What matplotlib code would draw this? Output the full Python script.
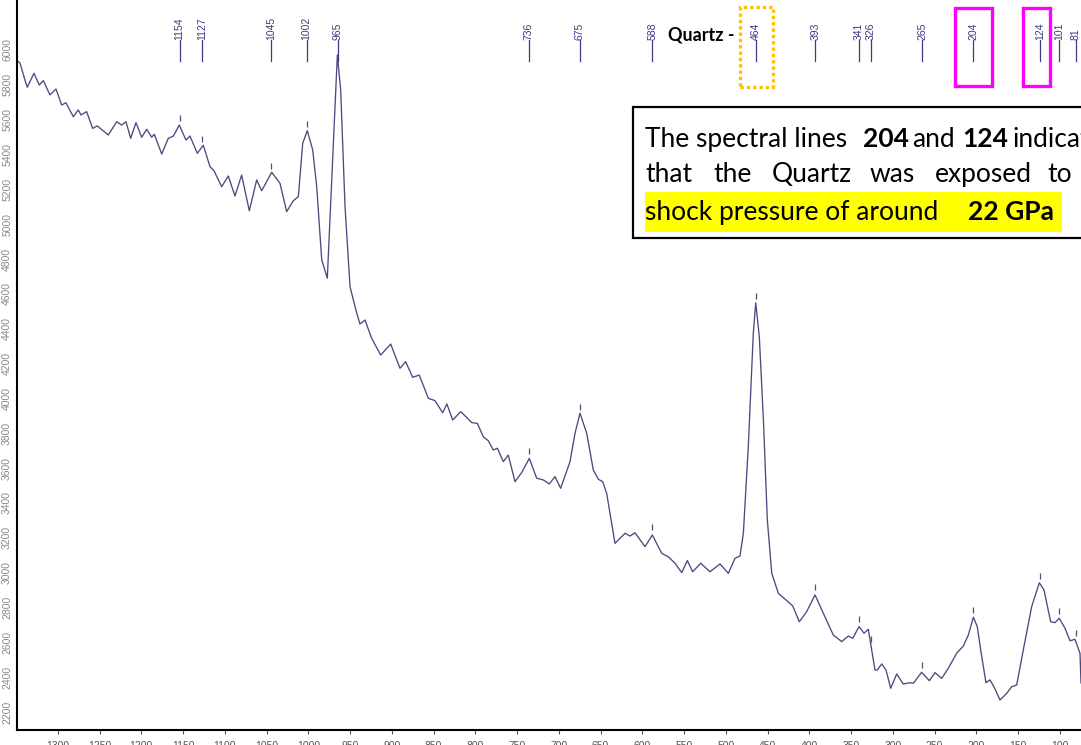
import matplotlib
matplotlib.use("Agg")
import matplotlib.pyplot as plt
import matplotlib.transforms as mtransforms
from matplotlib.patches import Rectangle
import numpy as np

# ---------------- data ----------------
wavenumber = [
    1348.5, 1345.2, 1339.3, 1336.5, 1328.5, 1322.1, 1317.3, 1309.3, 1302.1, 1295.3,
    1290.2, 1281.4, 1275.4, 1272.2, 1265.4, 1258.2, 1252.7, 1239.5, 1229.4, 1223.4,
    1218.3, 1212.7, 1206.3, 1199.5, 1193.5, 1187.5, 1184.4, 1175.5, 1167.6, 1161.6,
    1154.5, 1146.4, 1141.7, 1132.9, 1125.7, 1117.7, 1112.9, 1103.7, 1095.8, 1087.8,
    1079.8, 1070.6, 1061.8, 1055.8, 1043.8, 1033.9, 1025.9, 1017.9, 1011.9, 1006.7,
    1001.2, 994.7, 989.9, 983.9, 977.2, 971.9, 968.0, 965.2, 961.2, 956.0,
    950.0, 942.0, 938.1, 932.1, 924.1, 913.3, 901.3, 890.2, 883.4, 875.0,
    867.1, 856.3, 848.3, 839.1, 834.0, 827.1, 817.5, 811.2, 804.3, 797.6,
    790.4, 784.4, 778.5, 773.6, 766.5, 760.5, 752.5, 744.5, 735.3, 726.5,
    718.6, 711.4, 704.6, 697.8, 686.6, 680.6, 674.6, 666.6, 658.7, 652.7,
    647.5, 642.7, 632.7, 620.7, 614.7, 608.8, 596.8, 588.0, 576.8, 568.9,
    560.9, 552.8, 546.1, 539.7, 530.1, 519.0, 507.0, 497.0, 489.0, 483.0,
    479.0, 473.1, 467.1, 464.2, 459.9, 455.0, 450.3, 445.0, 437.1, 427.9,
    419.9, 412.0, 403.2, 393.2, 383.3, 371.3, 361.3, 353.3, 348.1, 340.5,
    334.5, 329.4, 321.4, 318.6, 313.3, 308.2, 302.6, 295.4, 287.5, 279.5,
    275.5, 265.5, 256.3, 249.5, 241.5, 233.6, 223.6, 215.6, 209.6, 203.6,
    198.9, 194.8, 188.5, 183.7, 178.9, 171.7, 163.7, 157.7, 151.7, 143.8,
    133.8, 124.6, 119.0, 111.0, 105.9, 100.7, 93.9, 87.9, 81.9, 75.9,
    74.7,
]
intensity = [
    5938, 5925, 5828, 5786, 5866, 5799, 5824, 5742, 5776, 5684,
    5697, 5617, 5656, 5627, 5646, 5550, 5564, 5512, 5588, 5569,
    5588, 5493, 5583, 5499, 5545, 5499, 5516, 5403, 5493, 5506,
    5569, 5483, 5506, 5407, 5453, 5330, 5307, 5215, 5277, 5162,
    5282, 5077, 5254, 5192, 5298, 5235, 5072, 5135, 5158, 5464,
    5537, 5426, 5215, 4795, 4690, 5254, 5674, 5971, 5770, 5100,
    4641, 4489, 4427, 4450, 4345, 4249, 4312, 4173, 4211, 4121,
    4134, 4001, 3987, 3918, 3968, 3876, 3924, 3895, 3861, 3857,
    3780, 3757, 3704, 3714, 3637, 3675, 3522, 3574, 3656, 3542,
    3532, 3509, 3551, 3484, 3637, 3800, 3915, 3800, 3589, 3536,
    3522, 3455, 3168, 3226, 3210, 3229, 3149, 3216, 3111, 3091,
    3054, 3000, 3069, 3005, 3054, 3005, 3050, 2996, 3082, 3096,
    3226, 3723, 4374, 4549, 4354, 3876, 3302, 2996, 2881, 2843,
    2809, 2718, 2776, 2872, 2767, 2642, 2604, 2636, 2623, 2690,
    2652, 2675, 2441, 2441, 2476, 2441, 2336, 2418, 2361, 2368,
    2365, 2428, 2380, 2426, 2393, 2451, 2537, 2579, 2642, 2744,
    2690, 2556, 2368, 2384, 2345, 2269, 2307, 2345, 2355, 2556,
    2804, 2942, 2900, 2718, 2713, 2738, 2681, 2609, 2617, 2537,
    2367,
]
peak_positions = [1154, 1127, 1045, 1002, 965, 736, 675, 588, 464, 393,
                  341, 326, 265, 204, 124, 101, 81]
peak_labels = [str(p) for p in peak_positions]
x_ticks = list(range(1300, 50, -50))
x_tick_labels = [str(t) for t in x_ticks]
y_ticks = list(range(2200, 6001, 200))
y_tick_labels = [str(t) for t in y_ticks]

# ---------------- figure ----------------
W, H = 1081, 745
fig = plt.figure(figsize=(W / 100, H / 100), dpi=100)
fig.patch.set_facecolor("white")

def fx(px):
    return px / W

def fy(py):
    return 1 - py / H

narrow = ["Liberation Sans Narrow", "Liberation Sans", "DejaVu Sans"]

ax = fig.add_axes([fx(17), 15 / H, (W - 17) / W, 730 / H])
ax.set_facecolor("white")
line_color = "#4a4a80"
ax.plot(wavenumber, intensity, color=line_color, lw=0.95)
ax.set_xlim(1348.8, 74.7)
ax.set_ylim(2096.7, 6286.9)

for s in ("top", "right"):
    ax.spines[s].set_visible(False)
for s in ("left", "bottom"):
    ax.spines[s].set_linewidth(1.5)
    ax.spines[s].set_color("black")

ax.set_xticks(x_ticks)
ax.set_xticklabels(x_tick_labels, fontsize=7.5, color="#808080", family=narrow)
ax.tick_params(axis="x", length=3, width=0.8, pad=5, colors="#555555")
ax.set_yticks(y_ticks)
ax.set_yticklabels(y_tick_labels, rotation=90, va="center", fontsize=7.5,
                   color="#8a8a8a", family=narrow)
ax.tick_params(axis="y", length=0, pad=3.5)

# peak markers above the curve
wn_asc = np.array(wavenumber)[::-1]
in_asc = np.array(intensity)[::-1]
mark_trans = mtransforms.offset_copy(ax.transData, fig=fig, x=0, y=8, units="dots")
for p in peak_positions:
    if p == 965:
        continue
    yv = np.interp(p, wn_asc, in_asc)
    ax.plot([p], [yv], marker="|", ms=5, mew=0.9, color="#505070",
            transform=mark_trans, clip_on=False)

# peak labels along the top
blend = mtransforms.blended_transform_factory(ax.transData, fig.transFigure)
label_color = "#3a3a85"
for p, lab in zip(peak_positions, peak_labels):
    ax.plot([p, p], [fy(40), fy(61)], color=label_color, lw=0.9,
            transform=blend, clip_on=False)
    ax.text(p, fy(40), lab, rotation=90, ha="center", va="bottom", fontsize=7.5,
            color=label_color, transform=blend, clip_on=False, family=narrow)

# Quartz label and highlight boxes
fig.text(fx(735), fy(35), "Quartz -", ha="right", va="center", fontsize=13,
         fontweight="bold", family=["Lato", "DejaVu Sans"], zorder=6)
fig.add_artist(Rectangle((fx(740), fy(87)), (773 - 740) / W, (87 - 7) / H,
                         transform=fig.transFigure, fill=False, edgecolor="#FFC000",
                         lw=2.4, linestyle=(0, (1.0, 0.9)), zorder=6))
fig.add_artist(Rectangle((fx(955), fy(86)), (992 - 955) / W, (86 - 8) / H,
                         transform=fig.transFigure, fill=False, edgecolor="#FF00FF",
                         lw=2.4, zorder=6))
fig.add_artist(Rectangle((fx(1023), fy(86)), (1050 - 1023) / W, (86 - 8) / H,
                         transform=fig.transFigure, fill=False, edgecolor="#FF00FF",
                         lw=2.4, zorder=6))

# annotation box
fig.add_artist(Rectangle((fx(633), fy(238)), (1120 - 633) / W, (238 - 107) / H,
                         transform=fig.transFigure, facecolor="white", edgecolor="black",
                         lw=1.6, zorder=5))
fig.add_artist(Rectangle((fx(645), fy(232)), (1062 - 645) / W, (232 - 192) / H,
                         transform=fig.transFigure, facecolor="#FFFF00", edgecolor="none",
                         zorder=5.5))

box_font = ["Lato", "DejaVu Sans"]
fs = 19
line1 = [("The spectral lines", 645, "normal"), ("204", 863, "bold"),
         ("and", 912, "normal"), ("124", 962, "bold"), ("indicate", 1013, "normal")]
line2 = [("that", 645, "normal"), ("the", 713, "normal"), ("Quartz", 772, "normal"),
         ("was", 870, "normal"), ("exposed", 935, "normal"), ("to", 1047, "normal")]
line3 = [("shock pressure of around", 645, "normal"), ("22 GPa", 968, "bold")]
for words, base in ((line1, 147), (line2, 182), (line3, 220)):
    for txt, px, wt in words:
        fig.text(fx(px), fy(base), txt, ha="left", va="baseline", fontsize=fs,
                 fontweight=wt, family=box_font, color="black", zorder=6)

fig.savefig("out.png", dpi=100)
